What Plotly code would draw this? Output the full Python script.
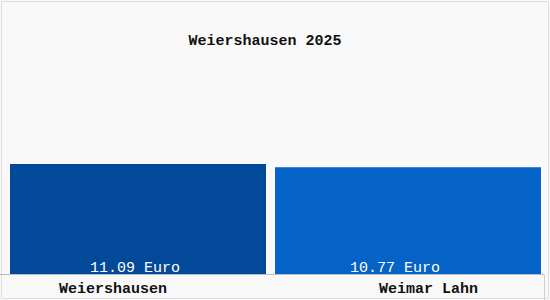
import plotly.graph_objects as go

categories = ["Weiershausen", "Weimar Lahn"]
values = [11.09, 10.77]
value_labels = ["11.09 Euro", "10.77 Euro"]
title_text = "Weiershausen 2025"

bar_colors = ["#03499a", "#0562c6"]
FONT = "Liberation Mono, DejaVu Sans Mono, monospace"

W, H = 550, 300
ml, mr, mt, mb = 3, 7, 0, 26
pw, ph = W - ml - mr, H - mt - mb

def px_x(p):
    return (p - ml) / pw

def px_y(p):
    return (H - mb - p) / ph

fig = go.Figure()
fig.add_trace(go.Bar(
    x=categories, y=values,
    width=[256 / 270, 266 / 270],
    marker=dict(color=bar_colors, line=dict(width=0)),
    hoverinfo="skip",
))

annotations = []
tick_shifts = [-25, 20]
value_shifts = [-3.5, -13.5]
for c, lab, ts, vs in zip(categories, value_labels, tick_shifts, value_shifts):
    annotations.append(dict(
        x=c, xref="x", y=0, yref="paper", yanchor="middle",
        yshift=-15, xshift=ts, showarrow=False, text="<b>%s</b>" % c,
        font=dict(family=FONT, size=15, color="#111111"),
    ))
    annotations.append(dict(
        x=c, xref="x", y=0, yref="y", yanchor="middle",
        yshift=6, xshift=vs, showarrow=False, text=lab,
        font=dict(family=FONT, size=15, color="white"),
    ))

fig.update_layout(
    width=W, height=H,
    margin=dict(l=ml, r=mr, t=mt, b=mb),
    paper_bgcolor="#f9f9f9",
    plot_bgcolor="#f9f9f9",
    showlegend=False,
    title=dict(text="<b>%s</b>" % title_text, x=265 / W, xanchor="center",
               y=1 - 40 / H, yanchor="middle", yref="container",
               font=dict(family=FONT, size=15, color="#111111")),
    xaxis=dict(showticklabels=False, showgrid=False, zeroline=False, showline=False,
               fixedrange=True),
    yaxis=dict(range=[0, 27.63], showticklabels=False, showgrid=False,
               zeroline=False, showline=False, fixedrange=True),
    annotations=annotations,
    shapes=[
        dict(type="line", xref="paper", yref="paper",
             x0=px_x(0), x1=px_x(544), y0=px_y(274.5), y1=px_y(274.5),
             line=dict(color="#bdbdbd", width=1)),
        dict(type="line", xref="paper", yref="paper",
             x0=px_x(544.5), x1=px_x(544.5), y0=px_y(274.5), y1=px_y(300),
             line=dict(color="#d0d0d0", width=1)),
        dict(type="rect", xref="paper", yref="paper",
             x0=px_x(1.5), x1=px_x(548.5), y0=px_y(298.5), y1=px_y(1.5),
             line=dict(color="#dedede", width=1), fillcolor="rgba(0,0,0,0)",
             layer="below"),
    ],
)

fig.write_html("out.html", config={"displayModeBar": False})
